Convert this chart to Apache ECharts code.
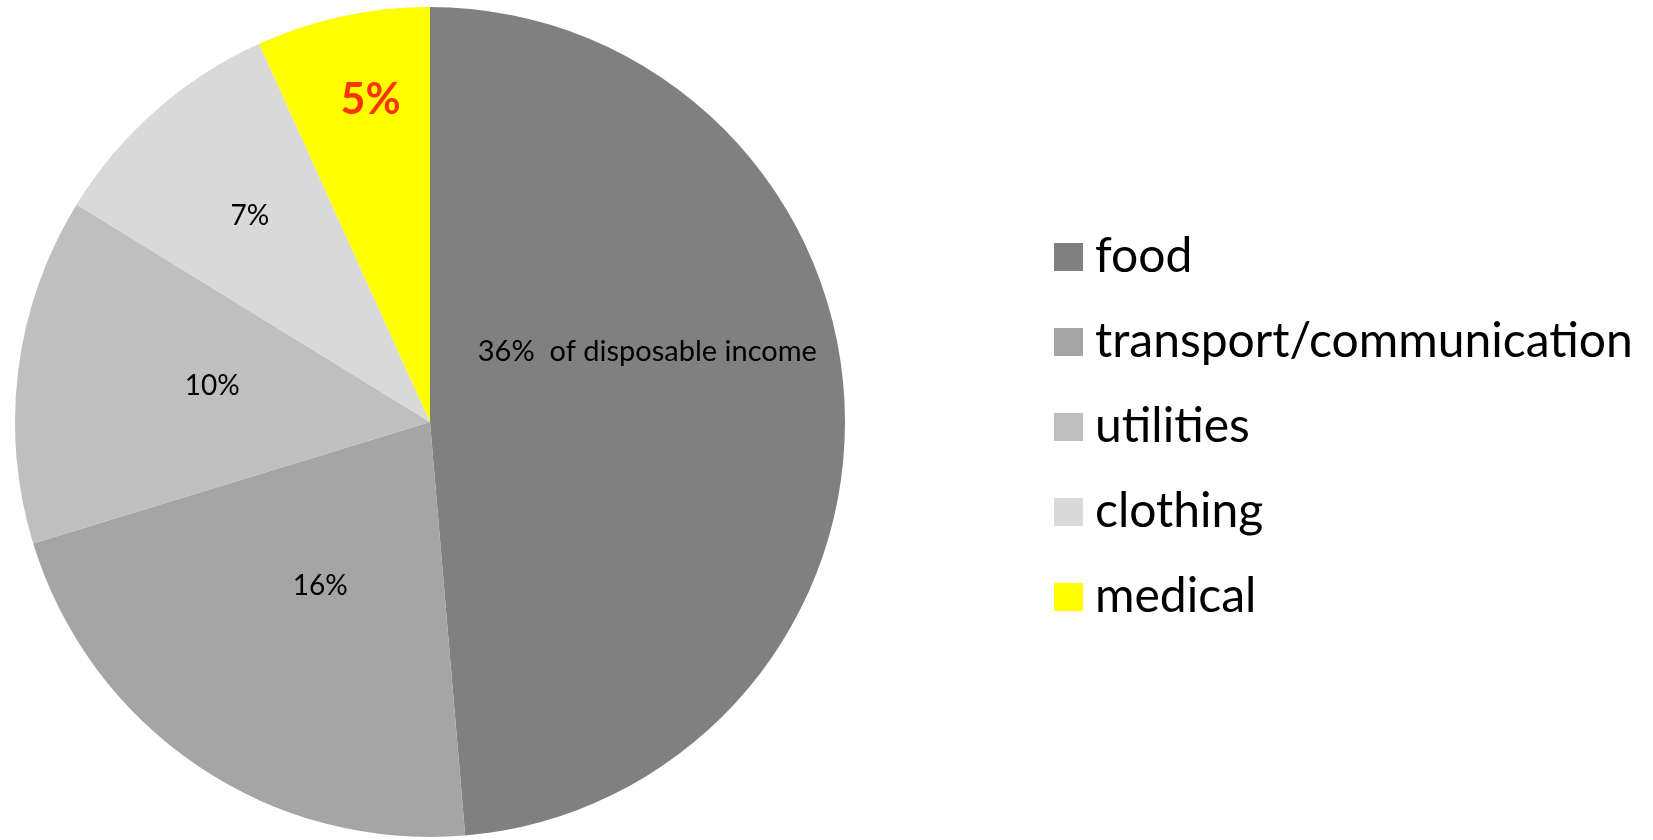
<!DOCTYPE html>
<html>
<head>
<meta charset="utf-8">
<title>Household spending</title>
<script src="https://cdn.jsdelivr.net/npm/echarts@6/dist/echarts.min.js"></script>
<style>
  html, body { margin: 0; padding: 0; background: #ffffff; }
  #chart { width: 1653px; height: 840px; }
</style>
</head>
<body>
<div id="chart"></div>
<script>
// Share of disposable income by spending category
const categories = ['food', 'transport/communication', 'utilities', 'clothing', 'medical'];
const shares = [36, 16, 10, 7, 5];
const colors = ['#808080', '#A5A5A5', '#BFBFBF', '#D9D9D9', '#FFFF00'];
// Nudges of each slice label away from the default inside spot
const labelOffsets = [[7, -61], [8, -10], [-9, -9], [-41, -48], [-15, -116]];

const FONT = 'Lato, "Open Sans", sans-serif';

const data = categories.map((name, i) => {
  const item = {
    name: name,
    value: shares[i],
    itemStyle: { color: colors[i] },
    label: { offset: labelOffsets[i] }
  };
  if (i === 0) {
    item.label.formatter = '{c}%  of disposable income';
    item.label.fontSize = 29;
  }
  if (name === 'medical') {
    item.label.color = '#FF3300';
    item.label.fontWeight = 'bold';
    item.label.fontSize = 43;
  }
  return item;
});

const chart = echarts.init(document.getElementById('chart'), null, { renderer: 'canvas' });
chart.setOption({
  animation: false,
  backgroundColor: '#ffffff',
  legend: {
    orient: 'vertical',
    left: 1054,
    top: 233,
    padding: 0,
    itemWidth: 29,
    itemHeight: 28,
    itemGap: 37,
    icon: 'rect',
    selectedMode: false,
    data: categories,
    textStyle: {
      fontFamily: FONT,
      fontSize: 48,
      lineHeight: 48,
      color: '#000000',
      padding: [0, 0, 0, 7]
    }
  },
  series: [{
    type: 'pie',
    center: [430, 422],
    radius: 415,
    startAngle: 90,
    clockwise: true,
    avoidLabelOverlap: false,
    silent: true,
    label: {
      show: true,
      position: 'inside',
      formatter: '{c}%',
      fontFamily: FONT,
      fontSize: 28,
      color: '#000000'
    },
    labelLine: { show: false },
    itemStyle: { borderWidth: 0 },
    data: data
  }]
});
</script>
</body>
</html>
